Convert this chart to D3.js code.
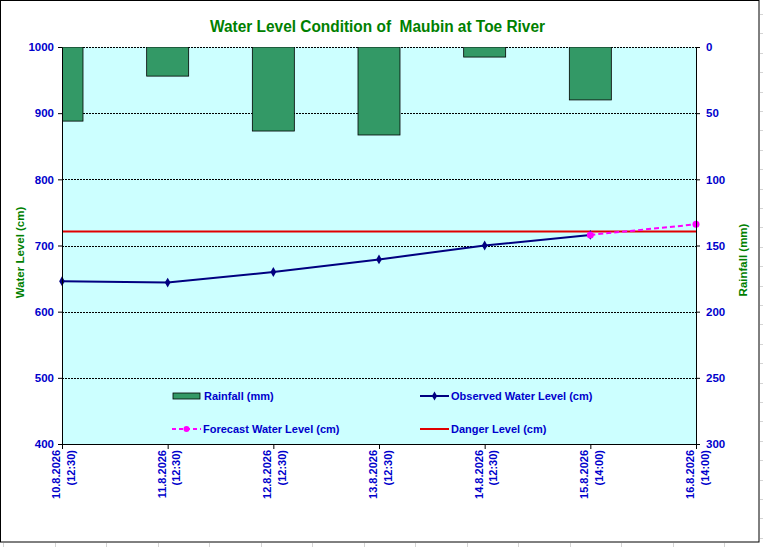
<!DOCTYPE html>
<html>
<head>
<meta charset="utf-8">
<script src="https://cdn.jsdelivr.net/npm/d3@7/dist/d3.min.js"></script>
<style>
  html, body { margin: 0; padding: 0; background: #ffffff; }
  svg { display: block; }
  .narrow { font-family: "Liberation Sans Narrow", "Arial Narrow", "Liberation Sans", Arial, sans-serif; font-weight: bold; }
  .arial { font-family: "Liberation Sans", Arial, sans-serif; font-weight: bold; }
</style>
</head>
<body>
<svg id="chart" width="763" height="547"></svg>
<script>
// ---- data ----
const categories = ["10.8.2026|(12:30)", "11.8.2026|(12:30)", "12.8.2026|(12:30)", "13.8.2026|(12:30)", "14.8.2026|(12:30)", "15.8.2026|(14:00)", "16.8.2026|(14:00)"];
const rainfall = [56, 22, 63.5, 66.5, 7.6, 40, null];
const observed = [646, 644, 660, 679, 700, 716, null];
const forecast = [null, null, null, null, null, 716, 732];
const dangerLevel = 721;
const levelTicks = [400, 500, 600, 700, 800, 900, 1000];
const rainTicks = [0, 50, 100, 150, 200, 250, 300];
const title = "Water Level Condition of  Maubin at Toe River";

// ---- layout ----
const W = 763, H = 547;
const L = 62, R = 696, T = 47, B = 444;
const svg = d3.select("#chart");

// faint spreadsheet cell lines outside the chart
const cells = svg.append("g").attr("stroke", "#d4d4d4").attr("stroke-width", 1);
d3.range(3, 763, 51.5).forEach(x => cells.append("line").attr("x1", Math.round(x) + 0.5).attr("x2", Math.round(x) + 0.5).attr("y1", 543).attr("y2", 547));
d3.range(14, 547, 19.4).forEach(y => cells.append("line").attr("x1", 760).attr("x2", 763).attr("y1", Math.round(y) + 0.5).attr("y2", Math.round(y) + 0.5));

// chart border
svg.append("rect").attr("x", 0.5).attr("y", 0.5).attr("width", 758.5).attr("height", 541.5)
  .attr("fill", "#ffffff").attr("stroke", "#000000").attr("stroke-width", 1);

const x = d3.scalePoint().domain(categories).range([L, R]);
const y = d3.scaleLinear().domain([400, 1000]).range([B, T]);
const y2 = d3.scaleLinear().domain([0, 300]).range([T, B]);

// plot area
svg.append("rect").attr("x", L).attr("y", T).attr("width", R - L).attr("height", B - T).attr("fill", "#CCFFFF");

svg.append("defs").append("clipPath").attr("id", "plotclip")
  .append("rect").attr("x", L).attr("y", T).attr("width", R - L).attr("height", B - T);

// gridlines
svg.append("g").selectAll("line").data(levelTicks.filter(v => v > 400)).join("line")
  .attr("x1", L).attr("x2", R)
  .attr("y1", d => Math.round(y(d)) + 0.5).attr("y2", d => Math.round(y(d)) + 0.5)
  .attr("stroke", "#000").attr("stroke-width", 1).attr("stroke-dasharray", "2,1");

// rainfall bars
const barW = 42;
svg.append("g").attr("clip-path", "url(#plotclip)").selectAll("rect")
  .data(categories.map((c, i) => ({ c, v: rainfall[i] })).filter(d => d.v != null)).join("rect")
  .attr("x", d => x(d.c) - barW / 2).attr("y", y2(0))
  .attr("width", barW).attr("height", d => y2(d.v) - y2(0))
  .attr("fill", "#339966").attr("stroke", "#000").attr("stroke-width", 0.8);

// danger level
svg.append("line").attr("x1", L).attr("x2", R).attr("y1", y(dangerLevel)).attr("y2", y(dangerLevel))
  .attr("stroke", "#E00000").attr("stroke-width", 2);

// observed line
const obsData = categories.map((c, i) => ({ c, v: observed[i] })).filter(d => d.v != null);
svg.append("path").datum(obsData)
  .attr("d", d3.line().x(d => x(d.c)).y(d => y(d.v)))
  .attr("fill", "none").attr("stroke", "#000080").attr("stroke-width", 2);
svg.append("g").selectAll("path").data(obsData).join("path")
  .attr("d", d3.symbol().type(d3.symbolDiamond).size(28))
  .attr("transform", d => `translate(${x(d.c)},${y(d.v)})`)
  .attr("fill", "#000080");

// forecast line
const fcData = categories.map((c, i) => ({ c, v: forecast[i] })).filter(d => d.v != null);
svg.append("path").datum(fcData)
  .attr("d", d3.line().x(d => x(d.c)).y(d => y(d.v)))
  .attr("fill", "none").attr("stroke", "#FF00FF").attr("stroke-width", 2).attr("stroke-dasharray", "5,3");
svg.append("g").selectAll("circle").data(fcData).join("circle")
  .attr("cx", d => x(d.c)).attr("cy", d => y(d.v)).attr("r", 3.5)
  .attr("fill", "#FF00FF");

// axes
const axL = svg.append("g").attr("transform", `translate(${L},0)`)
  .call(d3.axisLeft(y).tickValues(levelTicks).tickFormat(d3.format("d")).tickSize(4).tickPadding(4).tickSizeOuter(0));
const axR = svg.append("g").attr("transform", `translate(${R},0)`)
  .call(d3.axisRight(y2).tickValues(rainTicks).tickFormat(d3.format("d")).tickSize(4).tickPadding(6).tickSizeOuter(0));
const axB = svg.append("g").attr("transform", `translate(0,${B})`)
  .call(d3.axisBottom(x).tickSize(5).tickSizeOuter(0).tickFormat(() => ""));
[axL, axR, axB].forEach(a => {
  a.select(".domain").attr("stroke", "#000").attr("stroke-width", 1);
  a.selectAll(".tick line").attr("stroke", "#000");
});
[axL, axR].forEach(a => a.selectAll(".tick text")
  .attr("class", "arial").attr("font-size", "11.5px").attr("fill", "#0000CC")
  .style("font-family", '"Liberation Sans", Arial, sans-serif').style("font-weight", "bold"));

// x labels (rotated, two lines)
const xl = svg.append("g").selectAll("text").data(categories).join("text")
  .attr("class", "arial").attr("font-size", "11px").attr("fill", "#0000CC")
  .attr("text-anchor", "end")
  .attr("transform", d => `translate(${x(d)},450) rotate(-90)`);
xl.append("tspan").attr("x", 0).attr("y", -2).text(d => d.split("|")[0]);
xl.append("tspan").attr("x", 0).attr("y", 12.5).text(d => d.split("|")[1]);

// axis titles
svg.append("text").attr("class", "arial").attr("font-size", "11.5px").attr("fill", "#008000")
  .attr("text-anchor", "middle").attr("transform", "translate(24,252.5) rotate(-90)")
  .text("Water Level (cm)");
svg.append("text").attr("class", "arial").attr("font-size", "11.5px").attr("fill", "#008000")
  .attr("text-anchor", "middle").attr("transform", "translate(747,260) rotate(-90)")
  .text("Rainfall (mm)");

// title
svg.append("text").attr("class", "narrow").attr("font-size", "16px").attr("fill", "#008000")
  .attr("x", 210).attr("y", 32)
  .attr("textLength", 335).attr("lengthAdjust", "spacingAndGlyphs")
  .style("white-space", "pre").text(title);

// legend
const lg = svg.append("g").attr("class", "narrow").attr("font-size", "11px").attr("fill", "#0000CC");
const legendItems = [
  { name: "Rainfall (mm)", type: "bar", x: 173, y: 396 },
  { name: "Observed Water Level (cm)", type: "obs", x: 420, y: 396 },
  { name: "Forecast Water Level (cm)", type: "fc", x: 172, y: 429 },
  { name: "Danger Level (cm)", type: "danger", x: 420, y: 429 }
];
legendItems.forEach(it => {
  const g = lg.append("g");
  if (it.type === "bar") {
    g.append("rect").attr("x", it.x).attr("y", it.y - 3).attr("width", 27).attr("height", 6)
      .attr("fill", "#339966").attr("stroke", "#000").attr("stroke-width", 0.8);
  } else if (it.type === "obs") {
    g.append("line").attr("x1", it.x).attr("x2", it.x + 29).attr("y1", it.y).attr("y2", it.y)
      .attr("stroke", "#000080").attr("stroke-width", 2);
    g.append("path").attr("d", d3.symbol().type(d3.symbolDiamond).size(24)())
      .attr("transform", `translate(${it.x + 14.5},${it.y})`).attr("fill", "#000080");
  } else if (it.type === "fc") {
    g.append("line").attr("x1", it.x).attr("x2", it.x + 29).attr("y1", it.y).attr("y2", it.y)
      .attr("stroke", "#FF00FF").attr("stroke-width", 2).attr("stroke-dasharray", "4,3");
    g.append("circle").attr("cx", it.x + 14.5).attr("cy", it.y).attr("r", 3).attr("fill", "#FF00FF");
  } else {
    g.append("line").attr("x1", it.x).attr("x2", it.x + 29).attr("y1", it.y).attr("y2", it.y)
      .attr("stroke", "#E00000").attr("stroke-width", 2);
  }
  g.append("text").attr("x", it.x + 31).attr("y", it.y + 4).text(it.name);
});
</script>
</body>
</html>
